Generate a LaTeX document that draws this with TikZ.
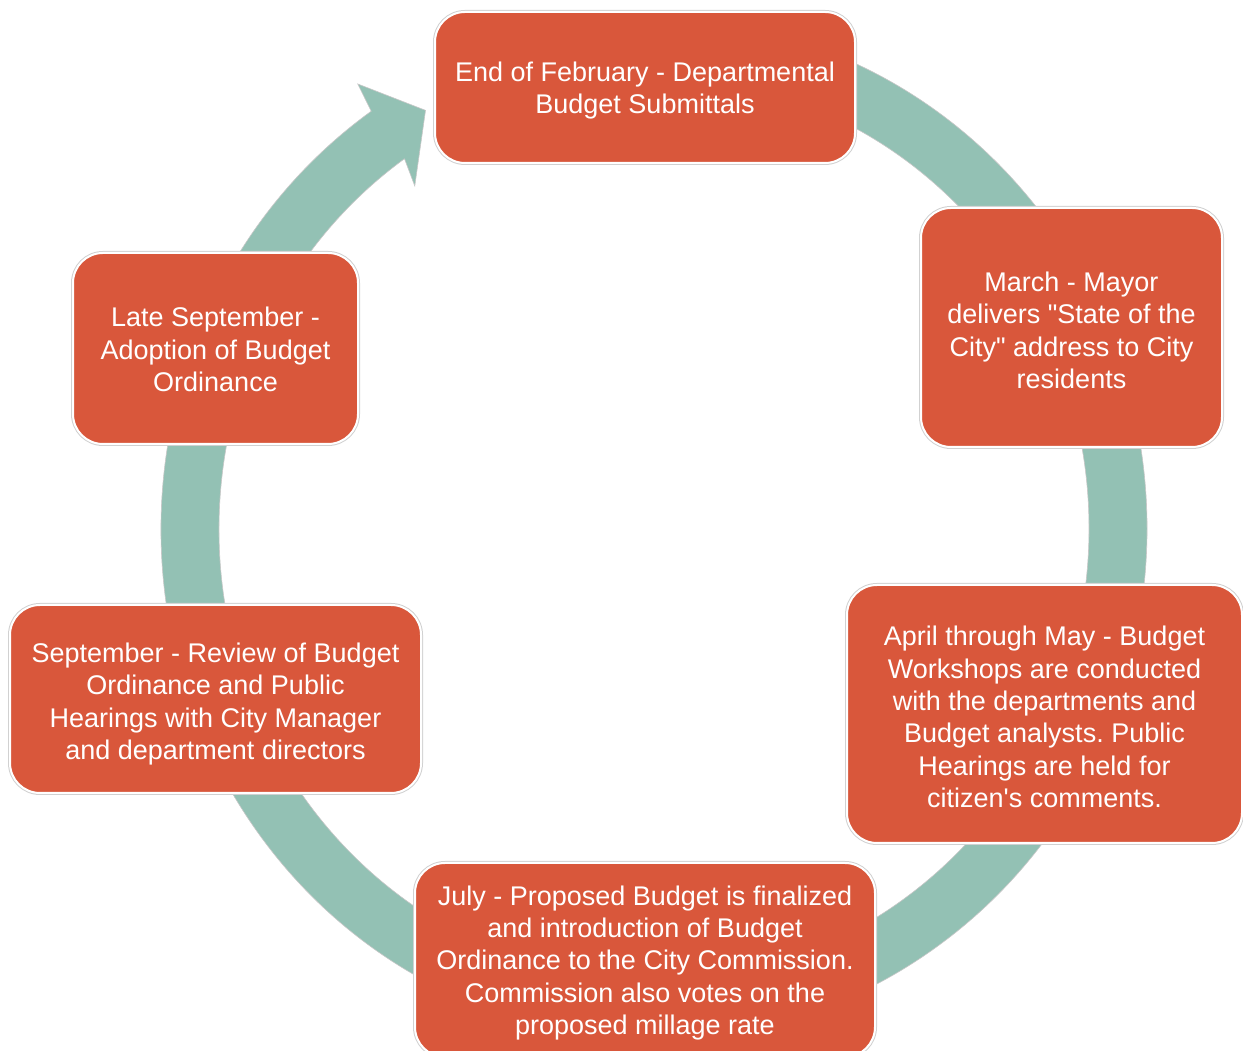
\documentclass[tikz,border=0pt]{standalone}
\usepackage{fontspec}
\setmainfont{Liberation Sans}
\definecolor{boxfill}{HTML}{D9573B}
\definecolor{ringfill}{HTML}{93C1B4}
\begin{document}
\frenchspacing
\begin{tikzpicture}[x=1pt,y=1pt,
  stage/.style={rectangle, rounded corners=30pt, fill=boxfill, draw=white, line width=2pt,
    preaction={draw=black!18, line width=4pt}, inner sep=0pt},
  stext/.style={text=white, align=center, inner sep=0pt,
    font=\fontsize{27}{32.3}\selectfont, yshift=-3pt},
  ringband/.style={fill=ringfill, draw=black!22, line width=0.6pt}
]
\useasboundingbox (0,0) rectangle (1243,1051);
\clip (0,0) rectangle (1243,1051);

% cyclic ring with arrow head
\begin{scope}[shift={(654,522)}]
\path[ringband] ({493*cos(125)},{510*sin(125)})
  arc[start angle=125, end angle=445, x radius=493, y radius=510]
  -- ({435*cos(85)},{452*sin(85)})
  arc[start angle=85, end angle=-235, x radius=435, y radius=452]
  -- ({407*cos(126)},{424*sin(126)})
  -- ({464*cos(119.5)},{481*sin(119.5)})
  -- ({523*cos(124.5)},{540*sin(124.5)})
  -- cycle;
\end{scope}

\node[stage, minimum width=420pt, minimum height=151pt,
  label={[stext]center:{End of February - Departmental\\Budget Submittals}}] (feb) at (645,963.5) {};
\node[stage, minimum width=301pt, minimum height=239pt,
  label={[stext]center:{March - Mayor\\delivers \textquotedbl State of the\\City\textquotedbl{} address to City\\residents}}] (mar) at (1071.5,723.5) {};
\node[stage, minimum width=395pt, minimum height=258pt,
  label={[stext]center:{April through May - Budget\\Workshops are conducted\\with the departments and\\Budget analysts. Public\\Hearings are held for\\citizen\textquotesingle s comments.}}] (apr) at (1044.5,337) {};
\node[stage, minimum width=460pt, minimum height=194pt,
  label={[stext]center:{July - Proposed Budget is finalized\\and introduction of Budget\\Ordinance to the City Commission.\\Commission also votes on the\\proposed millage rate}}] (jul) at (645,91) {};
\node[stage, minimum width=411pt, minimum height=188pt,
  label={[stext, yshift=-2pt]center:{September - Review of Budget\\Ordinance and Public\\Hearings with City Manager\\and department directors}}] (sep) at (215.5,352) {};
\node[stage, minimum width=285pt, minimum height=191pt,
  label={[stext, yshift=2pt]center:{Late September -\\Adoption of Budget\\Ordinance}}] (late) at (215.5,702.5) {};
\end{tikzpicture}
\end{document}
